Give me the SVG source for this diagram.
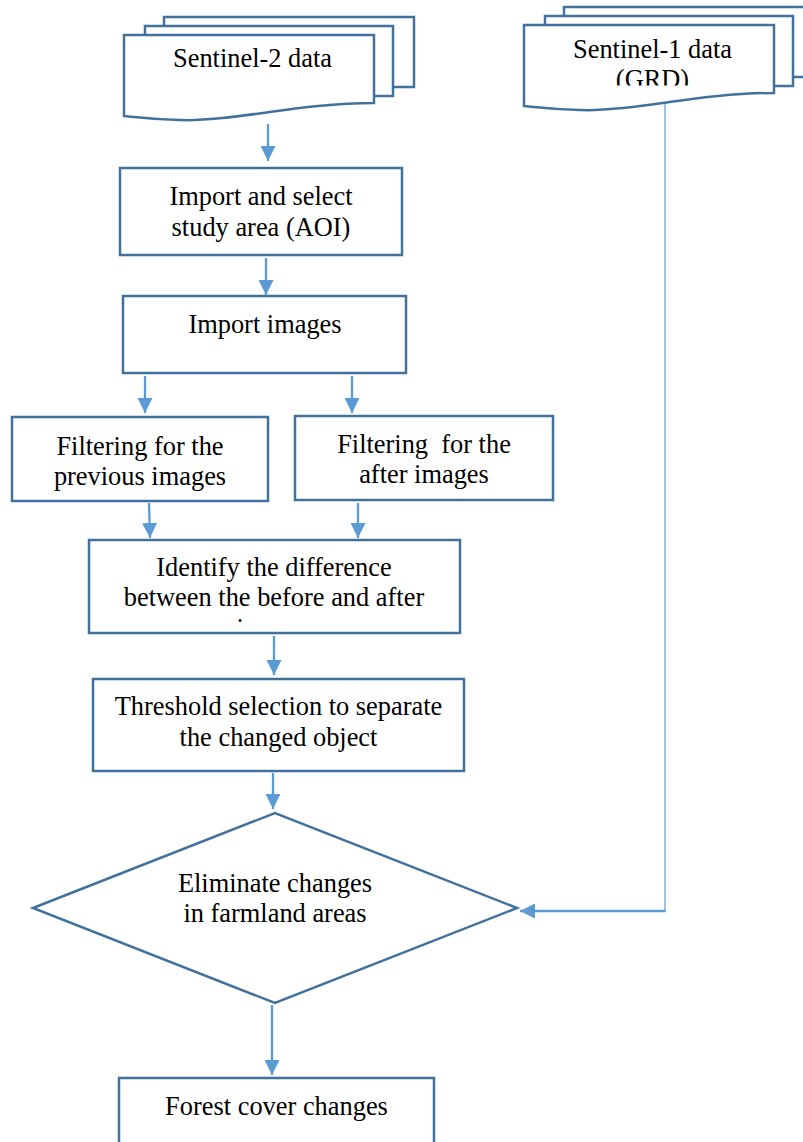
<svg xmlns="http://www.w3.org/2000/svg" width="803" height="1142" viewBox="0 0 803 1142">
<style>
.n{fill:#fff;stroke:#41719C;stroke-width:2.5}
.t{font-family:"Liberation Serif","Times New Roman",serif;font-size:26.4px;fill:#000;text-anchor:middle}
.c{stroke:#5B9BD5;stroke-width:2.3;fill:none}
</style>
<defs>
<marker id="ah" viewBox="0 0 10 10" refX="10" refY="5" markerWidth="15" markerHeight="15" markerUnits="userSpaceOnUse" orient="auto">
<path d="M0,0 L10,5 L0,10 z" fill="#5B9BD5"/>
</marker>
<clipPath id="clipGRD"><rect x="524" y="25" width="250" height="60.5"/></clipPath>
<clipPath id="clipId"><rect x="89" y="540" width="371" height="83"/></clipPath>
</defs>
<rect width="803" height="1142" fill="#fff"/>

<g id="connectors">
<line class="c" x1="268" y1="124" x2="268" y2="161" marker-end="url(#ah)"/>
<line class="c" x1="266" y1="258" x2="266" y2="295" marker-end="url(#ah)"/>
<line class="c" x1="145" y1="376" x2="145" y2="413" marker-end="url(#ah)"/>
<line class="c" x1="352" y1="376" x2="352" y2="413" marker-end="url(#ah)"/>
<line class="c" x1="149" y1="503" x2="150" y2="538" marker-end="url(#ah)"/>
<line class="c" x1="358" y1="503" x2="358" y2="538" marker-end="url(#ah)"/>
<line class="c" x1="274" y1="636" x2="274" y2="675" marker-end="url(#ah)"/>
<line class="c" x1="273" y1="773" x2="273" y2="809" marker-end="url(#ah)"/>
<line class="c" x1="272" y1="1005" x2="272" y2="1075" marker-end="url(#ah)"/>
<polyline points="665,97 665,912" fill="none" stroke="#5B9BD5" stroke-width="1.2"/>
<line class="c" x1="665.5" y1="911" x2="520" y2="911" marker-end="url(#ah)"/>
</g>

<g id="sentinel2">
<polygon class="n" points="164,17 414,17 414,87 164,87"/>
<polygon class="n" points="145,26 393,26 393,96 145,96"/>
<path class="n" d="M124,35 H374 V103 C300,103 230,122 180,120 C150,119 135,117 124,116 Z"/>
<text class="t" x="252.5" y="67">Sentinel-2 data</text>
</g>

<g id="sentinel1">
<polygon class="n" points="564,7 810,7 810,77 564,77"/>
<polygon class="n" points="545,16 793,16 793,86 545,86"/>
<path class="n" d="M524,25 H774 V93 C700,93 630,112 580,110 C550,109 535,107 524,106 Z"/>
<g clip-path="url(#clipGRD)">
<text class="t" x="652.5" y="58">Sentinel-1 data</text>
<text class="t" x="652.5" y="88">(GRD)</text>
</g>
</g>

<g id="import-aoi">
<rect class="n" x="120" y="168" width="282" height="87"/>
<text class="t" x="261" y="205">Import and select</text>
<text class="t" x="261" y="236">study area (AOI)</text>
</g>

<g id="import-images">
<rect class="n" x="123" y="296" width="283" height="77"/>
<text class="t" x="265" y="333">Import images</text>
</g>

<g id="filter-previous">
<rect class="n" x="12" y="417" width="256" height="84"/>
<text class="t" x="140" y="455">Filtering for the</text>
<text class="t" x="140" y="485">previous images</text>
</g>

<g id="filter-after">
<rect class="n" x="295" y="416" width="258" height="84"/>
<text class="t" x="424" y="453" style="white-space:pre" xml:space="preserve">Filtering  for the</text>
<text class="t" x="424" y="483">after images</text>
</g>

<g id="identify">
<rect class="n" x="89" y="540" width="371" height="93"/>
<g clip-path="url(#clipId)">
<text class="t" x="274" y="576">Identify the difference</text>
<text class="t" x="274" y="606">between the before and after</text>
<text class="t" x="274" y="637">images</text>
</g>
</g>

<g id="threshold">
<rect class="n" x="93" y="679" width="371" height="92"/>
<text class="t" x="278.5" y="715">Threshold selection to separate</text>
<text class="t" x="278.5" y="746">the changed object</text>
</g>

<g id="eliminate">
<polygon class="n" points="33,908 275,813 517,908 275,1003"/>
<text class="t" x="275" y="892">Eliminate changes</text>
<text class="t" x="275" y="922">in farmland areas</text>
</g>

<g id="forest">
<rect class="n" x="119" y="1078" width="315" height="80"/>
<text class="t" x="276.5" y="1115">Forest cover changes</text>
</g>
</svg>
